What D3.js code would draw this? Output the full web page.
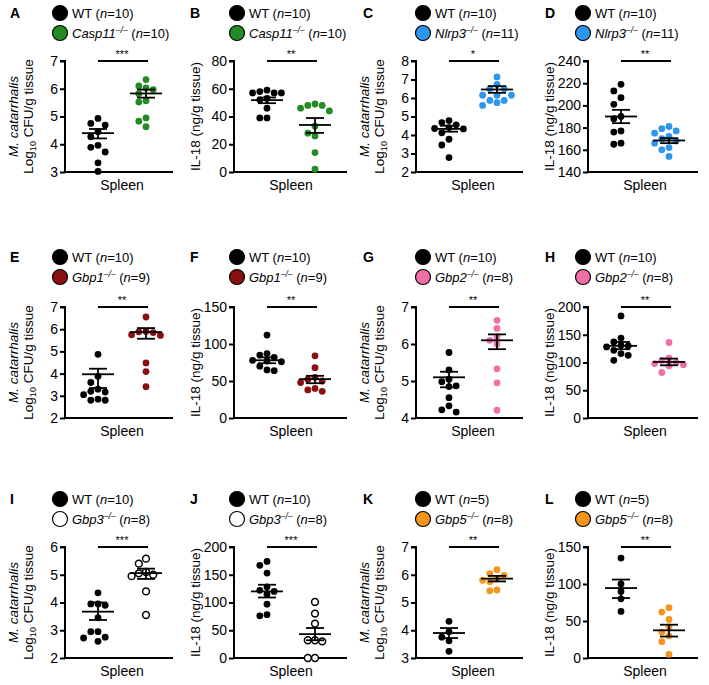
<!DOCTYPE html>
<html>
<head>
<meta charset="utf-8">
<script src="https://cdn.jsdelivr.net/npm/d3@7"></script>
<style>
  body { margin: 0; background: #fff; }
  svg { font-family: "Liberation Sans", Arial, sans-serif; }
</style>
</head>
<body>
<svg id="fig" width="709" height="685"></svg>
<script>
// panel metadata
const panelLetters = ["A", "B", "C", "D", "E", "F", "G", "H", "I", "J", "K", "L"];
const koGenes = ["Casp11", "Casp11", "Nlrp3", "Nlrp3", "Gbp1", "Gbp1", "Gbp2", "Gbp2", "Gbp3", "Gbp3", "Gbp5", "Gbp5"];
const koColors = ["#238b23", "#238b23", "#2c96f0", "#2c96f0", "#8c0f0f", "#8c0f0f", "#f26ea9", "#f26ea9", "#ffffff", "#ffffff", "#f7941d", "#f7941d"];
const wtN = [10, 10, 10, 10, 10, 10, 10, 10, 10, 10, 5, 5];
const koN = [10, 10, 11, 11, 9, 9, 8, 8, 8, 8, 8, 8];
const yDomains = [[3, 7], [0, 80], [2, 8], [140, 240], [2, 7], [0, 150], [4, 7], [0, 200], [2, 6], [0, 200], [3, 7], [0, 150]];
const yTickSteps = [1, 20, 1, 20, 1, 50, 1, 50, 1, 50, 1, 50];
const stars = ["***", "**", "*", "**", "**", "**", "**", "**", "***", "***", "**", "**"];

// individual mice
const wtA = [4.75, 4.93, 4.69, 4.45, 4.27, 3.89, 3.96, 3.72, 3.33, 3.02];
const koA = [6.33, 6.10, 6.03, 5.97, 5.82, 5.57, 5.52, 4.95, 4.83, 4.63];
const wtB = [59, 58, 57, 57, 57, 53, 52, 46, 39, 39];
const koB = [49, 48, 48, 46, 44, 33, 28, 26, 14, 2];
const wtC = [4.78, 4.67, 4.55, 4.40, 4.35, 4.33, 4.12, 3.77, 3.46, 2.78];
const koC = [7.14, 6.73, 6.50, 6.50, 6.15, 6.15, 6.15, 5.87, 5.87, 5.75, 5.60];
const wtD = [219, 213, 207, 201, 190, 188, 177, 176, 166, 165];
const koD = [181, 179, 177, 175, 172, 170, 168, 166, 162, 160, 154];
const wtE = [4.87, 3.88, 3.60, 3.30, 3.20, 3.17, 3.05, 2.85, 2.80, 2.80];
const koE = [6.55, 5.90, 5.88, 5.85, 5.75, 5.72, 4.48, 4.09, 3.41];
const wtF = [112, 87, 85, 82, 78, 77, 76, 70, 65, 64];
const koF = [84, 68, 55, 52, 50, 48, 40, 38, 36];
const wtG = [5.77, 5.30, 5.05, 4.98, 4.87, 4.85, 4.55, 4.33, 4.22, 4.16];
const koG = [6.64, 6.42, 6.20, 6.10, 6.00, 5.33, 4.95, 4.21];
const wtH = [184, 144, 137, 131, 130, 128, 122, 116, 113, 104];
const koH = [136, 108, 104, 100, 98, 96, 94, 82];
const wtI = [4.35, 3.95, 3.95, 3.90, 3.45, 2.95, 2.95, 2.75, 2.72, 2.60];
const koI = [5.58, 5.40, 5.10, 5.05, 5.00, 4.95, 4.40, 3.55];
const wtJ = [174, 167, 153, 128, 122, 120, 115, 97, 78, 76];
const koJ = [101, 80, 62, 32, 32, 30, 0, 0];
const wtK = [4.32, 3.95, 3.75, 3.62, 3.24];
const koK = [6.18, 6.04, 5.98, 5.85, 5.80, 5.75, 5.45, 5.42];
const wtL = [135, 100, 90, 80, 63];
const koL = [68, 62, 52, 42, 35, 30, 22, 5];
const wtValues = [wtA, wtB, wtC, wtD, wtE, wtF, wtG, wtH, wtI, wtJ, wtK, wtL];
const koValues = [koA, koB, koC, koD, koE, koF, koG, koH, koI, koJ, koK, koL];

// mean and SEM bars as drawn
const wtMean = [4.40, 51.8, 4.33, 190, 3.97, 78, 5.10, 130, 3.67, 120, 3.90, 94.5];
const wtHigh = [4.55, 53.7, 4.50, 196, 4.22, 82, 5.25, 137, 4.00, 132, 4.08, 106];
const wtLow = [4.21, 49.6, 4.18, 184, 3.35, 74, 4.83, 124, 3.37, 109, 3.72, 81];
const koMean = [5.83, 33.9, 6.46, 168.4, 5.87, 52.5, 6.10, 101, 5.06, 43, 5.86, 37.4];
const koHigh = [5.97, 38.9, 6.64, 170.5, 6.05, 57, 6.26, 107, 5.22, 54, 5.96, 45];
const koLow = [5.68, 28.2, 6.28, 166, 5.57, 47, 5.86, 95, 4.85, 32, 5.76, 29];

// layout
const colAxisX = [65, 234, 416, 588];
const colAxisW = [108, 113, 107, 110];
const colLegendX = [60, 237, 423, 583];
const colLetterX = [10, 190, 363, 545];
const rowLegendY = [13, 257, 499];
const rowTop = [61, 307, 547];
const rowBottom = [172, 418, 658];

const svg = d3.select("#fig");
const dotR = 3.4;
const slot = 7.2;

function swarm(vals, y, cx) {
  const placed = [];
  vals.slice().sort((a, b) => b - a).forEach(v => {
    const py = y(v);
    let off = 0;
    for (let k = 0; k < 40; k++) {
      off = (k % 2 === 1 ? -1 : 1) * Math.ceil(k / 2) * slot;
      const ok = placed.every(p => Math.hypot(p.x - (cx + off), p.y - py) >= 2 * dotR + 0.2);
      if (ok) break;
    }
    placed.push({ x: cx + off, y: py, v: v });
  });
  return placed;
}

function legendRow(g, x, y, fill, parts) {
  g.append("circle").attr("cx", x).attr("cy", y).attr("r", 7.5)
    .attr("fill", fill).attr("stroke", "#000").attr("stroke-width", 1.2);
  const t = g.append("text").attr("x", x + 12).attr("y", y + 4.8)
    .attr("font-size", 13);
  parts.forEach(p => {
    const s = t.append("tspan").text(p.t);
    if (p.i) s.attr("font-style", "italic");
    if (p.sup) s.attr("font-size", 8.5).attr("dy", -5);
    if (p.back) s.attr("dy", 5);
  });
}

panelLetters.forEach((letter, i) => {
  const col = i % 4, row = Math.floor(i / 4);
  const x0 = colAxisX[col], w = colAxisW[col];
  const top = rowTop[row], bottom = rowBottom[row];
  const isCfu = col % 2 === 0;
  const g = svg.append("g");

  // panel letter
  g.append("text").attr("x", colLetterX[col]).attr("y", rowLegendY[row] + 5)
    .attr("font-size", 14).attr("font-weight", "bold").text(letter);

  // legend
  const lx = colLegendX[col], ly = rowLegendY[row];
  legendRow(g, lx, ly, "#000", [{ t: "WT (" }, { t: "n", i: true }, { t: "=" + wtN[i] + ")" }]);
  legendRow(g, lx, ly + 20, koColors[i], [
    { t: koGenes[i], i: true }, { t: "\u2013/\u2013", i: true, sup: true },
    { t: " (", back: true }, { t: "n", i: true }, { t: "=" + koN[i] + ")" }
  ]);

  // scales
  const y = d3.scaleLinear().domain(yDomains[i]).range([bottom, top]);
  const x = d3.scalePoint().domain(["WT", "KO"]).range([x0 + 33, x0 + 81]);

  const ticks = d3.range(yDomains[i][0], yDomains[i][1] + 1e-9, yTickSteps[i]);
  const ax = g.append("g").attr("transform", `translate(${x0},0)`)
    .call(d3.axisLeft(y).tickValues(ticks).tickSize(5).tickPadding(2).tickFormat(d3.format("d")));
  ax.select(".domain").attr("stroke-width", 2).attr("d", `M-5,${top}H0V${bottom}`);
  ax.selectAll(".tick line").attr("stroke-width", 2);
  ax.selectAll(".tick text").attr("font-size", 14).attr("fill", "#000")
    .attr("font-family", "'Liberation Sans', Arial, sans-serif");

  g.append("line").attr("x1", x0 - 1).attr("x2", x0 + w).attr("y1", bottom).attr("y2", bottom)
    .attr("stroke", "#000").attr("stroke-width", 2);

  g.append("text").attr("x", (x("WT") + x("KO")) / 2).attr("y", bottom + 18)
    .attr("text-anchor", "middle").attr("font-size", 14).text("Spleen");

  // y-axis titles
  const midY = (top + bottom) / 2;
  if (isCfu) {
    g.append("text").attr("transform", `translate(${x0 - 47},${midY}) rotate(-90)`)
      .attr("text-anchor", "middle").attr("font-size", 13.5).attr("font-style", "italic")
      .text("M. catarrhalis");
    const t2 = g.append("text").attr("transform", `translate(${x0 - 32},${midY}) rotate(-90)`)
      .attr("text-anchor", "middle").attr("font-size", 13.5);
    t2.append("tspan").text("Log");
    t2.append("tspan").attr("font-size", 9).attr("dy", 3).text("10");
    t2.append("tspan").attr("dy", -3).text(" CFU/g tissue");
  } else {
    g.append("text").attr("transform", `translate(${x0 - 34},${midY}) rotate(-90)`)
      .attr("text-anchor", "middle").attr("font-size", 13.5).text("IL-18 (ng/g tissue)");
  }

  // significance
  g.append("line").attr("x1", x("WT")).attr("x2", x("KO") + 2).attr("y1", top).attr("y2", top)
    .attr("stroke", "#000").attr("stroke-width", 1.8);
  g.append("text").attr("x", (x("WT") + x("KO")) / 2).attr("y", top - 3)
    .attr("text-anchor", "middle").attr("font-size", 11).text(stars[i]);

  // dots
  const open = koColors[i] === "#ffffff";
  g.selectAll(".wt").data(swarm(wtValues[i], y, x("WT"))).join("circle")
    .attr("cx", d => d.x).attr("cy", d => d.y).attr("r", dotR).attr("fill", "#000");
  g.selectAll(".ko").data(swarm(koValues[i], y, x("KO"))).join("circle")
    .attr("cx", d => d.x).attr("cy", d => d.y).attr("r", open ? 3.4 : dotR)
    .attr("fill", koColors[i])
    .attr("stroke", open ? "#000" : "none").attr("stroke-width", 1.5);

  // mean +/- SEM
  const bars = [
    { cx: x("WT"), m: wtMean[i], hi: wtHigh[i], lo: wtLow[i] },
    { cx: x("KO"), m: koMean[i], hi: koHigh[i], lo: koLow[i] }
  ];
  bars.forEach(b => {
    const st = s => s.attr("stroke", "#000").attr("stroke-width", 1.8);
    g.append("line").attr("x1", b.cx - 16).attr("x2", b.cx + 16)
      .attr("y1", y(b.m)).attr("y2", y(b.m)).call(st);
    g.append("line").attr("x1", b.cx).attr("x2", b.cx)
      .attr("y1", y(b.hi)).attr("y2", y(b.lo)).call(st);
    [b.hi, b.lo].forEach(v => g.append("line").attr("x1", b.cx - 9).attr("x2", b.cx + 9)
      .attr("y1", y(v)).attr("y2", y(v)).call(st));
  });
});
</script>
</body>
</html>
